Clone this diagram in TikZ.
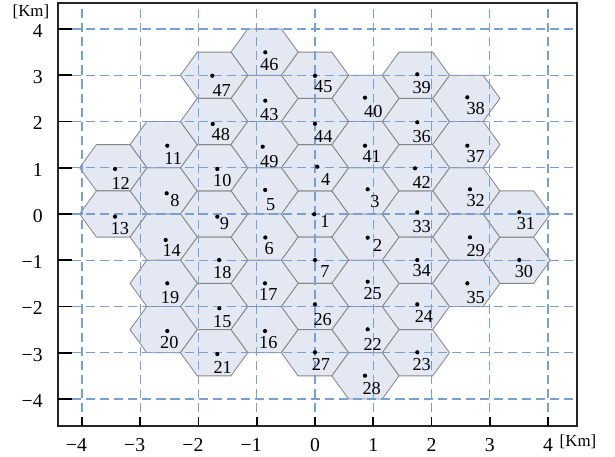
\documentclass[tikz,border=0pt]{standalone}
\usepackage{fontspec}
\setmainfont{Liberation Serif}
\definecolor{hexfill}{RGB}{227,232,243}
\definecolor{hexgray}{RGB}{135,135,135}
\definecolor{gridblue}{RGB}{118,160,215}

% cell / hexagon centre / site / label
\newcommand\celllist{%
    1/0/0/-0.014/-0.006/0.172/-0.166,
    2/0.866/-0.5/0.905/-0.512/1.076/-0.670,
    3/0.866/0.5/0.905/0.534/1.030/0.266,
    4/0/1/0.039/1.023/0.185/0.757,
    5/-0.866/0.5/-0.855/0.519/-0.760/0.212,
    6/-0.866/-0.5/-0.853/-0.508/-0.786/-0.750,
    7/0/-1/0/-0.995/0.172/-1.248,
    8/-2.598/0.5/-2.546/0.448/-2.403/0.288,
    9/-1.732/0/-1.677/-0.058/-1.554/-0.212,
    10/-1.732/1/-1.677/0.973/-1.591/0.720,
    11/-2.598/1.5/-2.536/1.477/-2.433/1.204,
    12/-3.464/1/-3.433/0.973/-3.336/0.664,
    13/-3.464/0/-3.433/-0.058/-3.348/-0.309,
    14/-2.598/-0.5/-2.563/-0.562/-2.460/-0.794,
    15/-1.732/-2/-1.643/-2.039/-1.591/-2.329,
    16/-0.866/-2.5/-0.858/-2.530/-0.802/-2.783,
    17/-0.866/-1.5/-0.858/-1.498/-0.802/-1.736,
    18/-1.732/-1/-1.645/-0.995/-1.591/-1.269,
    19/-2.598/-1.5/-2.536/-1.498/-2.489/-1.810,
    20/-2.598/-2.5/-2.536/-2.530/-2.501/-2.783,
    21/-1.732/-3/-1.677/-3.027/-1.585/-3.315,
    22/0.866/-2.5/0.905/-2.493/0.991/-2.811,
    23/1.732/-3/1.756/-2.990/1.832/-3.265,
    24/1.732/-2/1.756/-1.952/1.871/-2.205,
    25/0.866/-1.5/0.905/-1.464/0.991/-1.715,
    26/0/-2/0/-1.952/0.132/-2.277,
    27/0/-3/0/-2.990/0.103/-3.243,
    28/0.866/-3.5/0.858/-3.496/0.973/-3.769,
    29/2.598/-0.5/2.661/-0.504/2.759/-0.794,
    30/3.464/-1/3.507/-0.995/3.588/-1.248,
    31/3.464/0/3.507/0.037/3.622/-0.201,
    32/2.598/0.5/2.661/0.534/2.759/0.288,
    33/1.732/0/1.756/0.037/1.832/-0.275,
    34/1.732/-1/1.756/-0.995/1.832/-1.226,
    35/2.598/-1.5/2.615/-1.498/2.759/-1.801,
    36/1.732/2/1.756/1.983/1.832/1.671,
    37/2.598/1.5/2.615/1.477/2.759/1.239,
    38/2.598/2.5/2.615/2.523/2.759/2.270,
    39/1.732/3/1.756/3.021/1.832/2.739,
    40/0.866/2.5/0.858/2.515/1.001/2.212,
    41/0.866/1.5/0.858/1.477/0.973/1.239,
    42/1.732/1/1.717/0.988/1.832/0.677,
    43/-0.866/2.5/-0.853/2.450/-0.785/2.141,
    44/0/2/0/1.952/0.142/1.686,
    45/0/3/0/2.988/0.142/2.746,
    46/-0.866/3.5/-0.853/3.496/-0.785/3.222,
    47/-1.732/3/-1.763/2.990/-1.602/2.681,
    48/-1.732/2/-1.756/1.946/-1.617/1.708,
    49/-0.866/1.5/-0.898/1.455/-0.785/1.139}

\begin{document}
\begin{tikzpicture}[x=1.45625cm, y=1.15625cm,
            cellhex/.style={
                draw=hexgray,
                fill=hexfill,
                line width=0.6pt,
                line join=round
            },
            gridline/.style={
                draw=gridblue,
                line width=0.9pt,
                dash pattern=on 6.5pt off 3.5pt
            },
            frameline/.style={
                draw=black!85,
                line width=0.8pt
            },
            tickmark/.style={
                draw=black,
                line width=1.4pt
            },
            site/.style={
                circle,
                fill=black,
                inner sep=0pt,
                minimum size=3pt
            },
            celllabel/.style={
                font=\fontsize{13}{15}\selectfont,
                inner sep=0pt
            },
            ticklabel/.style={
                font=\fontsize{14}{16}\selectfont,
                inner sep=0pt
            }
        ]

        \useasboundingbox (-5.4077,-5.2541) rectangle (5.1502,4.6270);

        % Frame corners
        \coordinate (frameSW) at (-4.412,-4.584);
        \coordinate (frameNE) at (4.498,4.562);

        % Hexagonal cells
        \foreach \n/\hx/\hy/\dx/\dy/\lx/\ly in \celllist {
            \draw[cellhex] (\hx,\hy) +(0:0.5774) -- +(60:0.5774) -- +(120:0.5774)
                -- +(180:0.5774) -- +(240:0.5774) -- +(300:0.5774) -- cycle;
        }

        % Dashed grid (1 km)
        \foreach \g in {-4,...,4} {
            \draw[gridline] (frameSW -| \g,0) -- (frameNE -| \g,0);
            \draw[gridline] (frameSW |- 0,\g) -- (frameNE |- 0,\g);
        }

        % Sites and cell numbers
        \foreach \n/\hx/\hy/\dx/\dy/\lx/\ly in \celllist {
            \node[site] (site\n) at (\dx,\dy) {};
            \node[celllabel] (lab\n) at (\lx,\ly) {\n};
        }

        % Axes box
        \draw[frameline] (frameSW) rectangle (frameNE);

        % Ticks and tick labels
        \foreach \g [count=\i] in {-4,...,4} {
            \draw[tickmark] (frameSW -| \g,0) -- ++(0,0.195);
            \draw[tickmark] (frameSW |- 0,\g) -- ++(0.24,0);
            \node[ticklabel, anchor=base] (xlab\i) at (\g,-5.13)
                {\ifnum\g<0 \llap{−}\number\numexpr-\g\relax\else\g\fi};
            \node[ticklabel, anchor=base east] (ylab\i) at (-4.67,{\g-0.18})
                {\ifnum\g<0 −\number\numexpr-\g\relax\else\g\fi};
        }

        % Units
        \node[ticklabel, font=\fontsize{12}{14}\selectfont] (unity) at (-4.876,4.368) {[Km]};
        \node[ticklabel, font=\fontsize{12}{14}\selectfont] (unitx) at (4.515,-4.93) {[Km]};
\end{tikzpicture}
\end{document}
